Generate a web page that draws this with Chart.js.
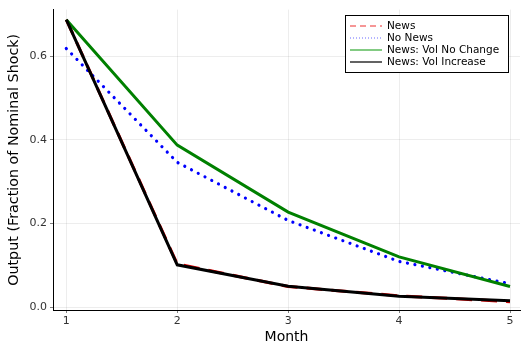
<!DOCTYPE html>
<html>
<head>
<meta charset="utf-8">
<script src="https://cdn.jsdelivr.net/npm/chart.js@4"></script>
<style>
  html, body { margin: 0; padding: 0; background: #fff; }
  #wrap { width: 521px; height: 342px; }
</style>
</head>
<body>
<div id="wrap"><canvas id="myChart" width="521" height="342"></canvas></div>
<script>
// values
const months = [1, 2, 3, 4, 5];
const news = [0.687, 0.103, 0.049, 0.027, 0.013];
const noNews = [0.618, 0.346, 0.207, 0.109, 0.056];
const volNoChange = [0.687, 0.387, 0.227, 0.120, 0.049];
const volIncrease = [0.687, 0.101, 0.050, 0.026, 0.015];
const yTicks = [0, 0.2, 0.4, 0.6];
const seriesNames = ["News", "No News", "News: Vol No Change", "News: Vol Increase"];

const FONT = "'DejaVu Sans', sans-serif";

function pts(vals) {
    return months.map((m, i) => ({ x: m, y: vals[i] }));
}

// legend box drawn inside the plot, top right, like Plots.jl
const boxLegend = {
    id: "boxLegend",
    afterDraw(chart) {
        const ctx = chart.ctx;
        const x0 = 345, y0 = 15, w = 163, h = 57;
        ctx.save();
        ctx.fillStyle = "#fff";
        ctx.fillRect(x0, y0, w, h);
        ctx.strokeStyle = "#000";
        ctx.lineWidth = 1;
        ctx.strokeRect(x0 + 0.5, y0 + 0.5, w, h);
        const rows = [26, 38, 50, 62];
        chart.data.datasets.forEach((ds, i) => {
            const y = rows[i];
            const dotted = ds.borderDash.length && ds.borderDash[0] < 1;
            ctx.beginPath();
            ctx.strokeStyle = ds.legendColor;
            ctx.lineWidth = dotted ? 1.5 : 2;
            ctx.lineCap = "butt";
            ctx.setLineDash(dotted ? [1, 2] : ds.borderDash.length ? [6, 4] : []);
            ctx.moveTo(350, y);
            ctx.lineTo(382, y);
            ctx.stroke();
            ctx.setLineDash([]);
            ctx.fillStyle = "#000";
            ctx.font = "10.5px " + FONT;
            ctx.textBaseline = "middle";
            ctx.fillText(ds.label, 387, y);
        });
        ctx.restore();
    }
};

const ctx = document.getElementById("myChart");
new Chart(ctx, {
    type: "line",
    data: {
        datasets: [
            {
                label: seriesNames[0], data: pts(news),
                borderColor: "rgb(230,0,0)", legendColor: "rgba(240,80,80,0.6)",
                borderWidth: 3, borderDash: [16, 9], order: 4
            },
            {
                label: seriesNames[1], data: pts(noNews),
                borderColor: "rgb(0,0,255)", legendColor: "rgba(90,90,255,0.6)",
                borderWidth: 3.2, borderDash: [0.01, 7.6], borderCapStyle: "round", order: 3
            },
            {
                label: seriesNames[2], data: pts(volNoChange),
                borderColor: "rgb(0,128,0)", legendColor: "rgba(100,190,100,0.8)",
                borderWidth: 3, borderDash: [], order: 2
            },
            {
                label: seriesNames[3], data: pts(volIncrease),
                borderColor: "rgb(0,0,0)", legendColor: "rgba(60,60,60,0.8)",
                borderWidth: 3, borderDash: [], order: 1
            }
        ]
    },
    options: {
        responsive: false,
        animation: false,
        events: [],
        layout: { padding: { top: 5, right: 1, left: 0, bottom: 0 } },
        elements: { point: { radius: 0 }, line: { tension: 0 } },
        plugins: { legend: { display: false }, tooltip: { enabled: false } },
        scales: {
            x: {
                type: "linear",
                min: 0.88, max: 5.09,
                afterBuildTicks: s => { s.ticks = months.map(v => ({ value: v })); },
                ticks: { color: "#333", font: { family: FONT, size: 11 }, padding: 2,
                         callback: v => String(v) },
                grid: { color: "rgba(0,0,0,0.07)", tickLength: 3, tickColor: "rgba(0,0,0,0.5)" },
                border: { color: "#000", width: 1 },
                title: { display: true, text: "Month", color: "#000",
                         font: { family: FONT, size: 14 }, padding: { top: 5, bottom: -4 } },
                afterFit: s => { s.height = 32; }
            },
            y: {
                type: "linear",
                min: -0.007, max: 0.711,
                afterBuildTicks: s => { s.ticks = yTicks.map(v => ({ value: v })); },
                ticks: { color: "#333", font: { family: FONT, size: 11 }, padding: 3,
                         callback: v => v.toFixed(1) },
                grid: { color: "rgba(0,0,0,0.07)", tickLength: 3, tickColor: "rgba(0,0,0,0.5)" },
                border: { color: "#000", width: 1 },
                title: { display: true, text: "Output (Fraction of Nominal Shock)", color: "#000",
                         font: { family: FONT, size: 14.3 }, padding: { top: 6, bottom: 2 } },
                afterFit: s => { s.width = 53; }
            }
        }
    },
    plugins: [boxLegend]
});
</script>
</body>
</html>
